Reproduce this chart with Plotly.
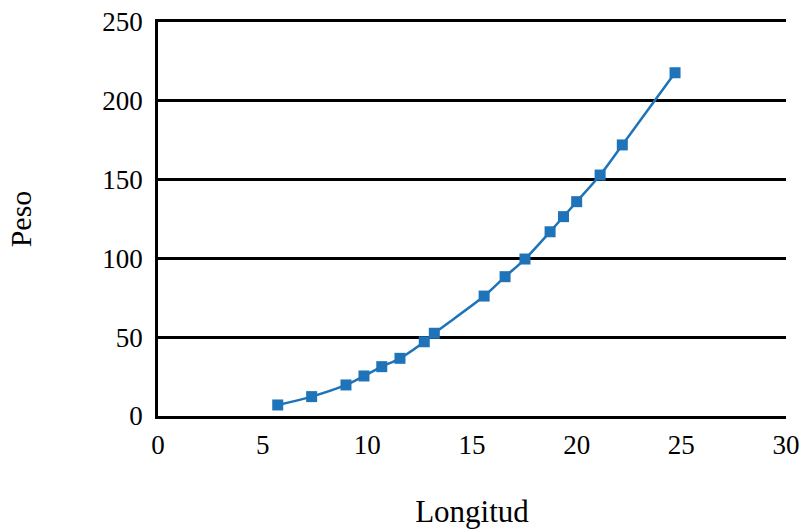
import plotly.graph_objects as go

longitud = [5.72, 7.34, 8.98, 9.84, 10.69, 11.56, 12.72, 13.2, 15.58, 16.58,
            17.53, 18.73, 19.37, 20.0, 21.12, 22.18, 24.7]
peso = [7.0, 12.3, 19.7, 25.4, 31.3, 36.6, 47.1, 52.5, 76.1, 88.4,
        99.6, 116.9, 126.5, 136.0, 152.9, 172.0, 217.8]

x_ticks = [0, 5, 10, 15, 20, 25, 30]
y_ticks = [0, 50, 100, 150, 200, 250]

FONT = "Liberation Serif"
BLUE = "#1f73b9"

fig = go.Figure()
fig.add_trace(go.Scatter(
    x=longitud, y=peso, mode="lines+markers",
    line=dict(color=BLUE, width=2.5, shape="spline", smoothing=1.0),
    marker=dict(symbol="square", size=11, color=BLUE),
    showlegend=False,
))

fig.update_layout(
    width=801, height=529,
    margin=dict(l=158, r=15, t=22, b=113),
    paper_bgcolor="white", plot_bgcolor="white",
    font=dict(family=FONT, size=27, color="black"),
    xaxis=dict(
        range=[0, 30], tickvals=x_ticks, ticks="", showgrid=False,
        showline=True, mirror=True, linecolor="black", linewidth=2.5,
        zeroline=False, automargin=False, ticklabeloverflow="allow",
        tickfont=dict(size=27), ticklabelstandoff=3,
        title=dict(text="Longitud", font=dict(size=31), standoff=45),
    ),
    yaxis=dict(
        range=[0, 250], tickvals=y_ticks, ticks="", showgrid=True,
        gridcolor="black", gridwidth=2.5,
        showline=True, linecolor="black", linewidth=2.5, zeroline=False,
        automargin=False, ticklabeloverflow="allow",
        tickfont=dict(size=27), ticklabelstandoff=7,
        title=dict(text="Peso", font=dict(size=30), standoff=62),
    ),
)

fig.write_html(
    "out.html",
    config={"displayModeBar": False},
    post_script="document.body.style.margin='0';document.body.style.overflow='hidden';",
)
